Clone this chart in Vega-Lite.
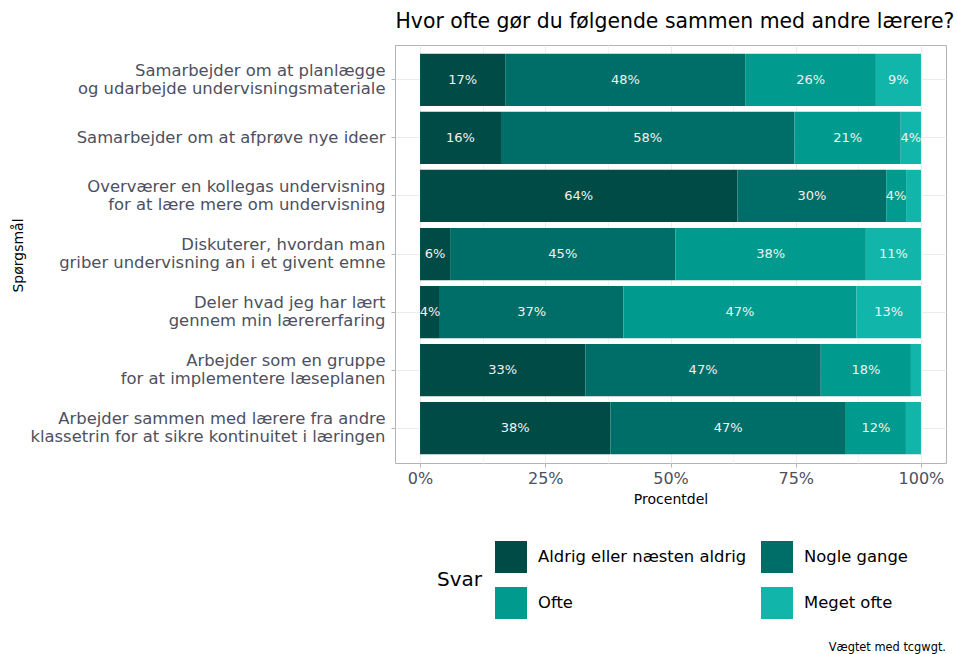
{
  "$schema": "https://vega.github.io/schema/vega-lite/v6.json",
  "width": 551,
  "height": 418,
  "autosize": "none",
  "padding": {"left": 395, "top": 45, "right": 11, "bottom": 191},
  "background": "white",
  "config": {
    "font": "DejaVu Sans",
    "view": {"stroke": "#b3b3b3", "strokeWidth": 1}
  },
  "title": {
    "text": "Vægtet med tcgwgt.",
    "orient": "bottom",
    "anchor": "end",
    "frame": "group",
    "fontSize": 11.4,
    "fontWeight": "normal",
    "color": "black",
    "offset": 23
  },
  "data": {
    "values": [
      {"q": "Samarbejder om at planlægge\nog udarbejde undervisningsmateriale", "svar": "Aldrig eller næsten aldrig", "k": 1, "pct": 17},
      {"q": "Samarbejder om at planlægge\nog udarbejde undervisningsmateriale", "svar": "Nogle gange", "k": 2, "pct": 48},
      {"q": "Samarbejder om at planlægge\nog udarbejde undervisningsmateriale", "svar": "Ofte", "k": 3, "pct": 26},
      {"q": "Samarbejder om at planlægge\nog udarbejde undervisningsmateriale", "svar": "Meget ofte", "k": 4, "pct": 9},
      {"q": "Samarbejder om at afprøve nye ideer", "svar": "Aldrig eller næsten aldrig", "k": 1, "pct": 16},
      {"q": "Samarbejder om at afprøve nye ideer", "svar": "Nogle gange", "k": 2, "pct": 58},
      {"q": "Samarbejder om at afprøve nye ideer", "svar": "Ofte", "k": 3, "pct": 21},
      {"q": "Samarbejder om at afprøve nye ideer", "svar": "Meget ofte", "k": 4, "pct": 4},
      {"q": "Overværer en kollegas undervisning\nfor at lære mere om undervisning", "svar": "Aldrig eller næsten aldrig", "k": 1, "pct": 64},
      {"q": "Overværer en kollegas undervisning\nfor at lære mere om undervisning", "svar": "Nogle gange", "k": 2, "pct": 30},
      {"q": "Overværer en kollegas undervisning\nfor at lære mere om undervisning", "svar": "Ofte", "k": 3, "pct": 4},
      {"q": "Overværer en kollegas undervisning\nfor at lære mere om undervisning", "svar": "Meget ofte", "k": 4, "pct": 3},
      {"q": "Diskuterer, hvordan man \ngriber undervisning an i et givent emne", "svar": "Aldrig eller næsten aldrig", "k": 1, "pct": 6},
      {"q": "Diskuterer, hvordan man \ngriber undervisning an i et givent emne", "svar": "Nogle gange", "k": 2, "pct": 45},
      {"q": "Diskuterer, hvordan man \ngriber undervisning an i et givent emne", "svar": "Ofte", "k": 3, "pct": 38},
      {"q": "Diskuterer, hvordan man \ngriber undervisning an i et givent emne", "svar": "Meget ofte", "k": 4, "pct": 11},
      {"q": "Deler hvad jeg har lært\ngennem min lærererfaring", "svar": "Aldrig eller næsten aldrig", "k": 1, "pct": 4},
      {"q": "Deler hvad jeg har lært\ngennem min lærererfaring", "svar": "Nogle gange", "k": 2, "pct": 37},
      {"q": "Deler hvad jeg har lært\ngennem min lærererfaring", "svar": "Ofte", "k": 3, "pct": 47},
      {"q": "Deler hvad jeg har lært\ngennem min lærererfaring", "svar": "Meget ofte", "k": 4, "pct": 13},
      {"q": "Arbejder som en gruppe\nfor at implementere læseplanen", "svar": "Aldrig eller næsten aldrig", "k": 1, "pct": 33},
      {"q": "Arbejder som en gruppe\nfor at implementere læseplanen", "svar": "Nogle gange", "k": 2, "pct": 47},
      {"q": "Arbejder som en gruppe\nfor at implementere læseplanen", "svar": "Ofte", "k": 3, "pct": 18},
      {"q": "Arbejder som en gruppe\nfor at implementere læseplanen", "svar": "Meget ofte", "k": 4, "pct": 2},
      {"q": "Arbejder sammen med lærere fra andre\nklassetrin for at sikre kontinuitet i læringen", "svar": "Aldrig eller næsten aldrig", "k": 1, "pct": 38},
      {"q": "Arbejder sammen med lærere fra andre\nklassetrin for at sikre kontinuitet i læringen", "svar": "Nogle gange", "k": 2, "pct": 47},
      {"q": "Arbejder sammen med lærere fra andre\nklassetrin for at sikre kontinuitet i læringen", "svar": "Ofte", "k": 3, "pct": 12},
      {"q": "Arbejder sammen med lærere fra andre\nklassetrin for at sikre kontinuitet i læringen", "svar": "Meget ofte", "k": 4, "pct": 3}
    ]
  },
  "transform": [
    {"stack": "pct", "groupby": ["q"], "sort": [{"field": "k"}], "offset": "normalize", "as": ["p0", "p1"]},
    {"calculate": "(datum.p0 + datum.p1) / 2", "as": "mid"},
    {"calculate": "datum.pct + '%'", "as": "lab"}
  ],
  "encoding": {
    "y": {
      "field": "q",
      "type": "nominal",
      "sort": [
        "Samarbejder om at planlægge\nog udarbejde undervisningsmateriale",
        "Samarbejder om at afprøve nye ideer",
        "Overværer en kollegas undervisning\nfor at lære mere om undervisning",
        "Diskuterer, hvordan man \ngriber undervisning an i et givent emne",
        "Deler hvad jeg har lært\ngennem min lærererfaring",
        "Arbejder som en gruppe\nfor at implementere læseplanen",
        "Arbejder sammen med lærere fra andre\nklassetrin for at sikre kontinuitet i læringen"
      ],
      "scale": {"paddingInner": 0.1, "paddingOuter": 0.15},
      "axis": {
        "title": "Spørgsmål",
        "titleFontSize": 14,
        "titleFontWeight": "normal",
        "titleColor": "black",
        "titleX": -377,
        "titleY": 210,
        "titleAngle": -90,
        "titleAlign": "center",
        "titleBaseline": "middle",
        "labelExpr": "split(datum.label, '\\n')",
        "labelFontSize": 16.4,
        "labelLineHeight": 18,
        "labelOffset": {"condition": {"test": "indexof(datum.label, '\\n') >= 0", "value": -9}, "value": 0},
        "labelColor": "#4d5060",
        "labelPadding": 6,
        "labelLimit": 600,
        "tickSize": 4,
        "tickColor": "#b3b3b3",
        "domain": false,
        "grid": true,
        "gridColor": "#ebebeb",
        "gridWidth": 1
      }
    }
  },
  "layer": [
    {
      "mark": {"type": "bar"},
      "encoding": {
        "x": {
          "field": "p0",
          "type": "quantitative",
          "scale": {"domain": [-0.05, 1.05], "nice": false, "zero": false},
          "axis": {
            "title": "Procentdel",
            "titleFontSize": 14,
            "titleFontWeight": "normal",
            "titleColor": "black",
            "titlePadding": 6,
            "values": [0, 0.125, 0.25, 0.375, 0.5, 0.625, 0.75, 0.875, 1],
            "labelExpr": "(datum.value * 4) % 1 === 0 ? format(datum.value, '.0%') : ''",
            "labelFontSize": 16,
            "labelColor": "#4d5060",
            "labelPadding": 3,
            "tickSize": 4,
            "tickColor": {"condition": {"test": "(datum.value * 4) % 1 === 0", "value": "#b3b3b3"}, "value": "transparent"},
            "domain": false,
            "grid": true,
            "gridColor": {"condition": {"test": "(datum.value * 4) % 1 === 0", "value": "#ebebeb"}, "value": "#f3f3f3"},
            "gridWidth": 1
          }
        },
        "x2": {"field": "p1"},
        "color": {
          "field": "svar",
          "type": "nominal",
          "scale": {
            "domain": ["Aldrig eller næsten aldrig", "Nogle gange", "Ofte", "Meget ofte"],
            "range": ["#004b46", "#006e68", "#009a8e", "#12b5a9"]
          },
          "legend": {
            "title": "Svar",
            "orient": "none",
            "legendX": 42,
            "legendY": 496,
            "direction": "horizontal",
            "columns": 2,
            "titleOrient": "left",
            "titleAnchor": "middle",
            "titleBaseline": "middle",
            "titleFontSize": 20,
            "titleFontWeight": "normal",
            "titleColor": "black",
            "titlePadding": 12,
            "symbolType": "square",
            "symbolSize": 1024,
            "symbolStrokeWidth": 0,
            "symbolOpacity": 1,
            "labelFontSize": 16.4,
            "labelColor": "black",
            "labelOffset": 11,
            "labelLimit": 400,
            "columnPadding": 14,
            "rowPadding": 14
          }
        }
      }
    },
    {
      "transform": [{"filter": "datum.pct >= 4"}],
      "mark": {"type": "text", "fontSize": 13, "color": "#f2f2f2"},
      "encoding": {
        "x": {
          "field": "mid",
          "type": "quantitative",
          "axis": {
            "orient": "top",
            "title": "Hvor ofte gør du følgende sammen med andre lærere?",
            "titleAnchor": "start",
            "titleFontSize": 20.4,
            "titleFontWeight": "normal",
            "titleColor": "black",
            "titlePadding": 14,
            "labels": false,
            "ticks": false,
            "domain": false,
            "grid": false
          }
        },
        "text": {"field": "lab"}
      }
    }
  ],
  "resolve": {"axis": {"x": "independent"}}
}
